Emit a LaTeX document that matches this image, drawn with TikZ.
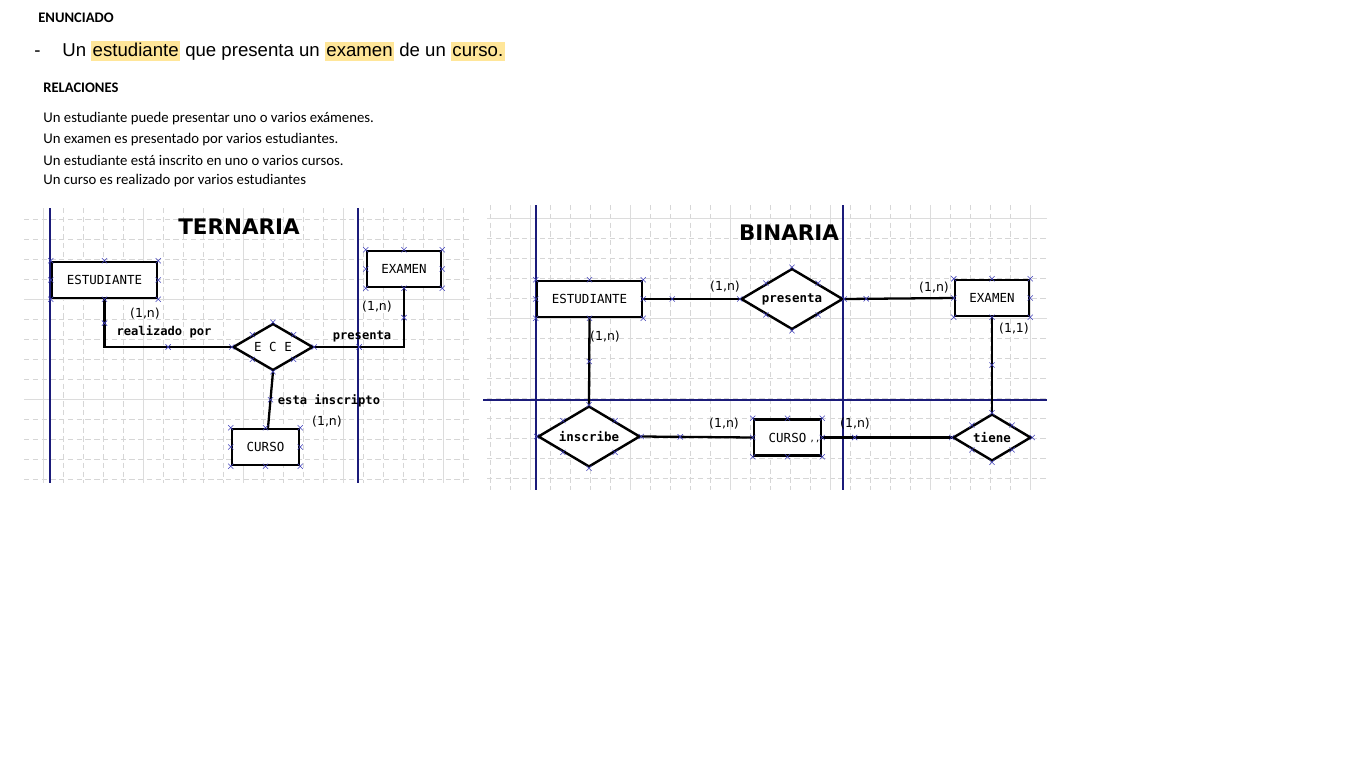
\documentclass[tikz,border=0pt]{standalone}
\usepackage{fontspec}
\setmainfont{Carlito}
\newfontfamily\arialf{Liberation Sans}
\newfontfamily\djsans{DejaVu Sans}
\newfontfamily\djmono{DejaVu Sans Mono}
\usetikzlibrary{positioning, shapes.geometric, shapes.misc}
\definecolor{hlyellow}{HTML}{FFE699}
\definecolor{gridgray}{HTML}{D6D6D6}
\definecolor{gridmaj}{HTML}{DCDCDC}
\definecolor{guideblue}{HTML}{1B1B7A}
\definecolor{markblue}{HTML}{4040B8}
\newcommand\hl[1]{{\setlength\fboxsep{0.8pt}\colorbox{hlyellow}{\vphantom{Xg}#1}}}
\newcommand\ermarks[1]{%
  \foreach \a in {north west,north,north east,east,south east,south,south west,west}
    {\node[mk] at (#1.\a) {};}}

\begin{document}
\begin{tikzpicture}[
  x=0.02cm, y=-0.02cm,
  txt/.style={anchor=west, inner sep=0pt, font=\fontsize{8.4}{10}\selectfont},
  hdr/.style={txt, font=\fontsize{8.3}{10}\selectfont\bfseries},
  ttl/.style={font=\djsans\bfseries\fontsize{12.2}{14}\selectfont},
  ent/.style={draw, line width=1.4pt, fill=white, minimum height=0.72cm, inner sep=0pt,
    font=\djmono\fontsize{7.1}{8}\selectfont},
  rel/.style={diamond, draw, line width=1.4pt, fill=white, inner sep=0pt,
    font=\djmono\bfseries\fontsize{7.1}{8}\selectfont},
  lbl/.style={font=\djmono\bfseries\fontsize{6.9}{8}\selectfont},
  card/.style={font=\djsans\fontsize{7.1}{8}\selectfont},
  conn/.style={draw, line width=1.3pt},
  gmin/.style={draw=gridgray, line width=0.4pt, dash pattern=on 3pt off 2pt},
  gmaj/.style={draw=gridmaj, line width=0.45pt},
  guide/.style={draw=guideblue, line width=0.6pt},
  mk/.style={cross out, draw=markblue, line width=0.35pt, minimum size=2.6pt, inner sep=0pt}
]
\useasboundingbox (0,0) rectangle (1360,768);

% enunciado
\node[hdr] (enun) at (38,18) {ENUNCIADO};
\node[anchor=base west, inner sep=0pt, font=\arialf\fontsize{10.6}{12}\selectfont] (guion) at (34,56) {-};
\node[anchor=base west, inner sep=0pt, font=\arialf\fontsize{10.6}{12}\selectfont] (frase) at (62,56)
  {Un \hl{estudiante} que presenta un \hl{examen} de un \hl{curso.}};
\node[hdr] (relac) at (43,88) {RELACIONES};
\node[txt] (r1) at (43,119) {Un estudiante puede presentar uno o varios exámenes.};
\node[txt] (r2) at (43,140) {Un examen es presentado por varios  estudiantes.};
\node[txt] (r3) at (43,160) {Un estudiante está inscrito en uno o varios cursos.};
\node[txt] (r4) at (43,181) {Un curso es realizado por varios estudiantes};

% grilla ternaria
\foreach \x in {63,83,...,463} \draw[gmin] (\x,208) -- (\x,483);
\foreach \y in {219,239,...,479} \draw[gmin] (24,\y) -- (470,\y);
\foreach \x in {43,143,243,343,443} \draw[gmaj] (\x,208) -- (\x,483);
\foreach \y in {299,399} \draw[gmaj] (24,\y) -- (470,\y);
\draw[guide] (50,208) -- (50,483);
\draw[guide] (358,208) -- (358,483);

% grilla binaria
\foreach \x in {490,510,...,1046} \draw[gmin] (\x,205) -- (\x,490);
\foreach \y in {238,258,...,478} \draw[gmin] (487,\y) -- (1047,\y);
\foreach \x in {530,630,...,1030} \draw[gmaj] (\x,205) -- (\x,490);
\foreach \y in {218,318} \draw[gmaj] (487,\y) -- (1047,\y);
\draw[guide] (536,205) -- (536,490);
\draw[guide] (843,205) -- (843,490);
\draw[guide] (483,400) -- (1047,400);

% ternaria
\node[ttl] (ttern) at (239,227) {TERNARIA};
\node[ent, minimum width=2.1cm]  (estT) at (104.5,280) {ESTUDIANTE};
\node[ent, minimum width=1.48cm] (exT)  at (404,269)   {EXAMEN};
\node[ent, minimum width=1.34cm] (curT) at (265.5,447) {CURSO};
\node[rel, aspect=1.7, minimum width=1.6cm, minimum height=0.94cm,
  font=\djmono\fontsize{7.1}{8}\selectfont] (ece) at (273,347) {E C E};

\draw[conn] (estT.south) |- node[mk, pos=0.25] {} node[mk, pos=0.75] {} (ece.west);
\draw[conn] (ece.east) -| node[mk, pos=0.25] {} node[mk, pos=0.75] {} (exT.south);
\draw[conn] (ece.south) -- node[mk] {} ([xshift=0.05cm]curT.north);
\ermarks{estT} \ermarks{exT} \ermarks{curT} \ermarks{ece}

\node[card] (cT1) at (145,314) {(1,n)};
\node[lbl]  (lT1) at (164,332) {realizado por};
\node[card] (cT2) at (377,307) {(1,n)};
\node[lbl]  (lT2) at (362,336) {presenta};
\node[lbl]  (lT3) at (329,401) {esta inscripto};
\node[card] (cT3) at (327,422) {(1,n)};

% binaria
\node[ttl] (tbin) at (789,233) {BINARIA};
\node[ent, minimum width=2.1cm]  (estB) at (589.5,299) {ESTUDIANTE};
\node[ent, minimum width=1.48cm] (exB)  at (992,298)   {EXAMEN};
\node[ent, minimum width=1.34cm] (curB) at (787.5,437.5) {CURSO};
\node[rel, aspect=1.67, minimum width=2.04cm, minimum height=1.22cm] (pres) at (792,299)   {presenta};
\node[rel, aspect=1.67, minimum width=2.04cm, minimum height=1.22cm] (insc) at (589,436.5) {inscribe};
\node[rel, aspect=1.66, minimum width=1.56cm, minimum height=0.94cm] (tien) at (992,437.5) {tiene};
\node[font=\djmono\fontsize{5}{6}\selectfont, inner sep=0pt] (curBq) at (815,441) {,,};

\draw[conn] (estB.east) -- node[mk, pos=0.3] {} (pres.west);
\draw[conn] (pres.east) -- node[mk, pos=0.2] {} (exB.west);
\draw[conn] (estB.south) -- node[mk] {} (insc.north);
\draw[conn] (exB.south) -- node[mk] {} (tien.north);
\draw[conn] (insc.east) -- node[mk, pos=0.35] {} (curB.west);
\draw[conn] (curB.east) -- node[mk, pos=0.25] {} (tien.west);
\ermarks{estB} \ermarks{exB} \ermarks{curB} \ermarks{pres} \ermarks{insc} \ermarks{tien}

\node[card] (cB1) at (725,287) {(1,n)};
\node[card] (cB2) at (934,288) {(1,n)};
\node[card] (cB3) at (605,337) {(1,n)};
\node[card] (cB4) at (1014,329) {(1,1)};
\node[card] (cB5) at (724,424) {(1,n)};
\node[card] (cB6) at (855,424) {(1,n)};

\end{tikzpicture}
\end{document}
